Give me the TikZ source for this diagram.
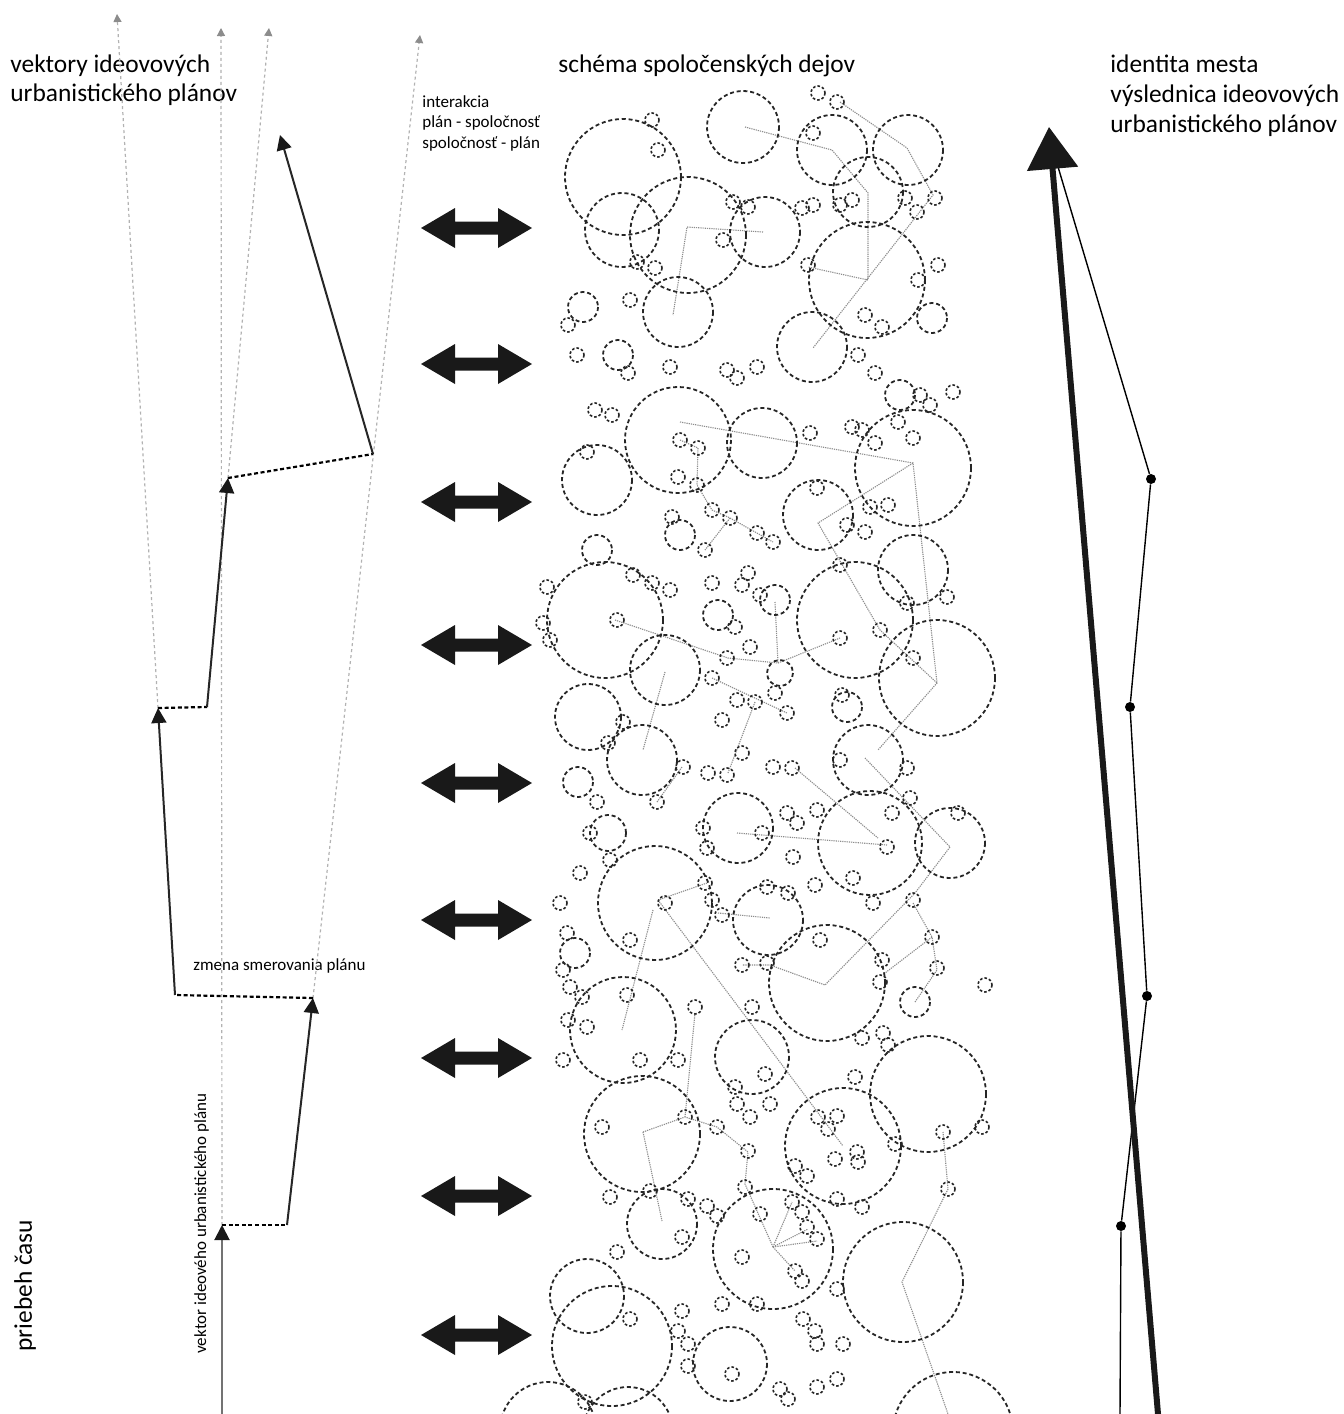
\documentclass[tikz,border=0pt]{standalone}
\usepackage{fontspec}
\setmainfont{Carlito}
\usetikzlibrary{arrows.meta}
\begin{document}
\begin{tikzpicture}[x=0.5pt,y=-0.5pt,
  bigc/.style={draw=black!85,line width=0.9pt,dash pattern=on 2pt off 1.4pt},
  smc/.style={draw=black!85,line width=0.8pt,dash pattern=on 1.3pt off 1pt},
  link/.style={draw=black!45,line width=0.55pt,dash pattern=on 0.6pt off 0.5pt},
  guide/.style={draw=black!30,line width=0.6pt,dash pattern=on 1.5pt off 1.5pt,-{Triangle[length=4pt,width=4pt,color=black!45]}},
  vec/.style={draw=black!85,line width=1pt,-{Triangle[length=7.5pt,width=7.5pt,color=black!90]}},
  turnline/.style={draw=black,line width=1.1pt,dash pattern=on 2pt off 1.3pt},
  bigtxt/.style={font=\fontsize{12.7}{15}\selectfont,inner sep=0pt},
  smtxt/.style={font=\fontsize{8.5}{10}\selectfont,inner sep=0pt},
  dot/.style={circle,fill=black,inner sep=0pt,minimum size=5pt},
  dblarrow/.style={fill=black!90},
]
\useasboundingbox[fill=white] (0,0) rectangle (1344,1414);

% ---------- texts ----------
\node[bigtxt,anchor=base west] (tl1) at (10,72) {vektory ideovových};
\node[bigtxt,anchor=base west] (tl2) at (10,101) {urbanistického plánov};
\node[bigtxt,anchor=base west] (tc) at (558,72) {schéma spoločenských dejov};
\node[bigtxt,anchor=base west] (tr1) at (1110,72) {identita mesta};
\node[bigtxt,anchor=base west] (tr2) at (1110,102) {výslednica ideovových};
\node[bigtxt,anchor=base west] (tr3) at (1110,132) {urbanistického plánov};
\node[smtxt,anchor=base west] (ti1) at (422,107) {interakcia};
\node[smtxt,anchor=base west] (ti2) at (422,127.5) {plán - spoločnosť};
\node[smtxt,anchor=base west] (ti3) at (422,148) {spoločnosť - plán};
\node[smtxt,anchor=base west] (tz) at (193,970) {zmena smerovania plánu};
\node[smtxt,anchor=base west,rotate=90] (tv) at (206,1354) {vektor ideového urbanistického plánu};
\node[bigtxt,anchor=base west,rotate=90] (tp) at (32,1352) {priebeh času};

% ---------- left vectors ----------
\coordinate (a0) at (222,1414);
\coordinate (a1) at (222,1225);
\coordinate (b0) at (287,1225);
\coordinate (b1) at (313,998);
\coordinate (c0) at (175,995);
\coordinate (c1) at (158,708);
\coordinate (d0) at (207,707);
\coordinate (d1) at (228,478);
\coordinate (e0) at (373,454);
\coordinate (e1) at (280,135);
\coordinate (ga) at (221,28);
\coordinate (gb) at (420,35);
\coordinate (gc) at (117,14);
\coordinate (gd) at (269,28);

\draw[guide] (a1) -- (ga);
\draw[guide] (b1) -- (gb);
\draw[guide] (c1) -- (gc);
\draw[guide] (d1) -- (gd);

\draw[vec,draw=black!55] (a0) -- (a1);
\draw[turnline] (a1) -- (b0);
\draw[vec] (b0) -- (b1);
\draw[turnline] (b1) -- (c0);
\draw[vec] (c0) -- (c1);
\draw[turnline] (c1) -- (d0);
\draw[vec] (d0) -- (d1);
\draw[turnline] (d1) -- (e0);
\draw[vec] (e0) -- (e1);

% ---------- double arrows ----------
\foreach \yy in {228,364,502,645,783,920,1058,1196,1335}{
  \fill[dblarrow,shift={(476.5,\yy)}] (-55.5,0) -- (-21.5,-20) -- (-21.5,-6.5) -- (21.5,-6.5) -- (21.5,-20) -- (55.5,0)
    -- (21.5,20) -- (21.5,6.5) -- (-21.5,6.5) -- (-21.5,20) -- cycle;
}

% ---------- cloud: links ----------
\draw[link] (745,127) -- (832,150) -- (868,193) -- (868,280) -- (808,267);
\draw[link] (840,102) -- (907,148) -- (933,195) -- (813,348);
\draw[link] (763,232) -- (687,227) -- (673,315);
\draw[link] (680,422) -- (913,463) -- (937,683) -- (878,750);
\draw[link] (913,463) -- (818,523) -- (880,630) -- (937,683);
\draw[link] (615,620) -- (728,658) -- (778,663) -- (840,638);
\draw[link] (775,602) -- (778,663);
\draw[link] (680,440) -- (698,448) -- (697,485) -- (712,510) -- (730,518) -- (773,542);
\draw[link] (730,518) -- (705,550);
\draw[link] (665,672) -- (643,750);
\draw[link] (712,678) -- (787,713);
\draw[link] (755,702) -- (728,773);
\draw[link] (795,768) -- (878,838);
\draw[link] (737,833) -- (887,845);
\draw[link] (865,758) -- (950,847) -- (915,893) -- (825,985) -- (770,965) -- (742,965);
\draw[link] (913,903) -- (932,937) -- (937,970) -- (915,1002);
\draw[link] (932,937) -- (885,973);
\draw[link] (658,900) -- (707,883);
\draw[link] (658,900) -- (843,1146);
\draw[link] (653,910) -- (622,1030);
\draw[link] (718,913) -- (770,918);
\draw[link] (695,1013) -- (685,1117);
\draw[link] (657,802) -- (682,767);
\draw[link] (643,1132) -- (685,1117) -- (717,1127) -- (748,1152) -- (745,1184) -- (773,1247);
\draw[link] (643,1132) -- (662,1221);
\draw[link] (773,1247) -- (792,1202);
\draw[link] (773,1247) -- (808,1229);
\draw[link] (773,1247) -- (817,1241);
\draw[link] (773,1247) -- (795,1271);
\draw[link] (943,1132) -- (948,1189) -- (902,1282) -- (948,1414);

% ---------- cloud: large circles ----------
\foreach \cx/\cy/\cr in {
 623/177/58, 743/127/36, 622/230/37, 688/235/58, 765/232/35, 678/312/35,
 832/150/35, 908/150/35, 868/192/35, 867/280/58, 812/347/35,
 583/307/15, 618/355/15, 932/318/15, 900/395/15,
 678/440/53, 762/443/35, 597/480/35, 818/515/35, 913/468/58, 913/570/35,
 605/620/58, 665/670/35, 855/620/58, 937/678/58, 588/717/33,
 642/760/35, 868/760/35, 578/782/15, 738/828/35, 870/843/52, 950/843/35,
 608/833/18, 655/903/57, 768/920/35, 827/983/58, 575/953/15,
 623/1030/53, 752/1057/37, 642/1134/58, 662/1224/35, 773/1249/60,
 843/1146/58, 928/1094/58, 903/1282/60, 587/1296/37, 612/1346/60,
 730/1364/37, 548/1430/48, 628/1432/45, 953/1432/60,
 597/550/15, 680/535/15, 775/600/15, 718/615/15, 915/1002/15,
 780/673/13, 847/707/15}
 \draw[bigc] (\cx,\cy) circle (\cr);

% ---------- cloud: small circles ----------
\foreach \cx/\cy in {
 652/120, 658/150, 637/262, 655/268, 630/300, 577/355, 568/325,
 628/373, 670/367, 727/370, 737/378, 757/367, 595/410, 612/415,
 733/202, 748/207, 723/240, 802/208, 813/205, 818/93, 837/102, 813/133,
 840/205, 852/200, 905/198, 917/212, 935/198, 808/265, 938/265, 918/280,
 865/315, 882/327, 858/355, 875/373, 920/395, 930/405, 953/392,
 587/452, 680/440, 698/448, 678/477, 697/485, 712/510, 730/518, 672/517,
 705/550, 757/533, 773/542, 810/433, 852/427, 862/430, 875/443, 898/422,
 913/438, 817/488, 847/525, 865/532, 870/507, 888/505,
 547/587, 633/575, 652/583, 670/590, 712/583, 748/573, 742/585, 760/595,
 735/627, 617/620, 543/623, 550/640, 840/565, 840/638, 880/630, 907/603,
 947/597, 750/647, 727/658, 712/678, 755/702, 737/700, 787/713, 775/693,
 722/720, 842/695, 913/658, 623/722, 608/743,
 683/767, 657/802, 597/802, 708/773, 727/775, 742/753, 773/767, 792/768,
 590/833, 580/873, 560/903, 610/860, 703/828, 707/848, 762/833, 787/813,
 797/823, 817/810, 793/857, 815/885, 840/760, 907/768, 910/798, 892/813,
 958/813, 887/847, 853/878, 873/903, 913/900, 705/883, 712/900, 722/915,
 665/903, 767/887, 788/893, 630/940, 567/933, 563/970, 570/987, 582/997,
 742/965, 767/963, 820/940, 882/960, 880/982, 932/937, 937/968, 985/985,
 627/995, 695/1007, 752/1007, 568/1020, 587/1027, 640/1060, 678/1060,
 563/1060, 862/1038, 883/1033, 888/1045, 855/1077,
 602/1127, 685/1117, 717/1127, 748/1151, 737/1104, 750/1117, 770/1104,
 735/1087, 765/1074, 818/1117, 837/1116, 828/1129, 835/1159, 857/1152,
 858/1162, 795/1166, 807/1176, 837/1199, 862/1207, 895/1144, 943/1132,
 982/1127, 948/1189, 610/1197, 650/1191, 688/1199, 707/1206, 717/1216,
 745/1187, 760/1214, 792/1202, 802/1212, 807/1227, 817/1239, 682/1237,
 617/1252, 742/1257, 795/1271, 802/1281, 837/1289, 757/1304, 722/1304,
 682/1311, 630/1319, 803/1319, 815/1331, 817/1344, 843/1344, 678/1331,
 688/1344, 688/1366, 732/1374, 780/1389, 788/1399, 817/1387, 837/1379,
 585/1402}
 \draw[smc] (\cx,\cy) circle (7);

% ---------- right: identity ----------
\node[dot] (p1) at (1121,1226) {};
\node[dot] (p2) at (1147,996) {};
\node[dot] (p3) at (1130,707) {};
\node[dot] (p4) at (1151,479) {};
\coordinate (s0) at (1120,1414);
\coordinate (st) at (1053,150);
\coordinate (r0) at (1158,1414);
\coordinate (rt) at (1049,127);
\draw[line width=0.7pt] (s0) -- (p1) -- (p2) -- (p3) -- (p4) -- (st);
\draw[line width=3pt,black!90,-{Triangle[length=21pt,width=25pt]}] (r0) -- (rt);
\end{tikzpicture}
\end{document}
